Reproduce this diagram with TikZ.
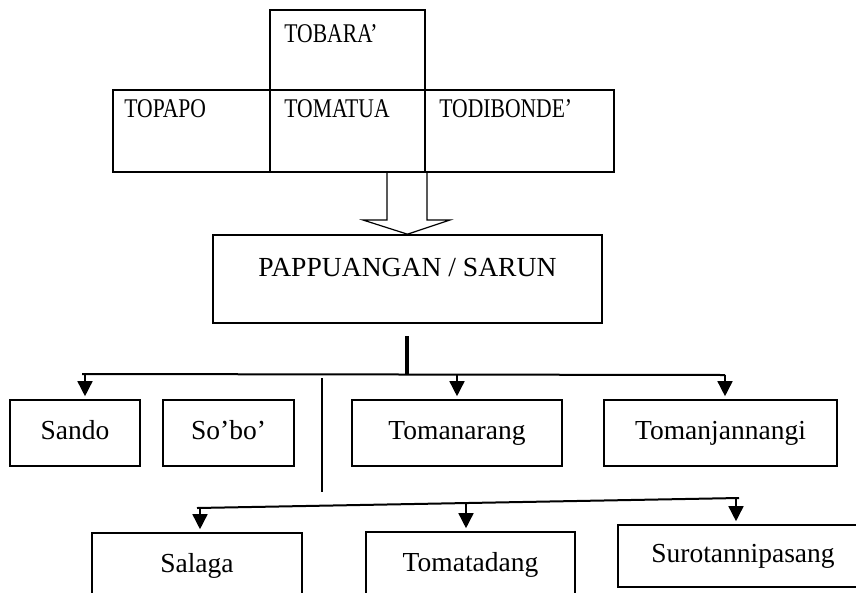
\documentclass[tikz,border=0pt]{standalone}
\usepackage{fontspec}
\setmainfont{Liberation Serif}
\usepackage{graphicx}
\usetikzlibrary{arrows.meta}
\newcommand{\narrowtext}[1]{\scalebox{.8}[1]{#1}}

\tikzset{
  cell/.style={draw, line width=1.6pt, inner sep=0pt},
  celltext/.style={anchor=north west, inner sep=0pt, font=\fontsize{27}{30}\selectfont},
  member/.style={draw, line width=1.6pt, minimum height=66pt, inner sep=0pt,
    text height=19pt, text depth=6pt, font=\fontsize{27.5}{30}\selectfont},
  branch/.style={line width=1.5pt, -{Triangle[width=15pt,length=15pt]}, shorten >=3pt},
  rail/.style={line width=2pt},
}

\begin{document}
\begin{tikzpicture}[x=1pt,y=-1pt]
  \clip (0,0) rectangle (856,592);

  % elders
  \node[cell, minimum width=155pt, minimum height=80pt,
    label={[celltext, xshift=15pt, yshift=-15pt]north west:\narrowtext{TOBARA’}}]
    (tobara) at (347.5,50) {};
  \node[cell, minimum width=157pt, minimum height=82pt,
    label={[celltext, xshift=12pt, yshift=-10pt]north west:\narrowtext{TOPAPO}}]
    (topapo) at (191.5,131) {};
  \node[cell, minimum width=155pt, minimum height=82pt,
    label={[celltext, xshift=15pt, yshift=-10pt]north west:\narrowtext{TOMATUA}}]
    (tomatua) at (347.5,131) {};
  \node[cell, minimum width=189pt, minimum height=82pt,
    label={[celltext, xshift=15pt, yshift=-10pt]north west:\narrowtext{TODIBONDE’}}]
    (todibonde) at (519.5,131) {};

  \node[cell, minimum width=389pt, minimum height=88pt,
    label={[inner sep=0pt, yshift=12pt, font=\fontsize{27.6}{30}\selectfont]center:PAPPUANGAN / SARUN}]
    (pappuangan) at (407.5,279) {};

  % hollow arrow
  \draw[line width=1.2pt] (387,172) -- (387,220) -- (363,220) -- (pappuangan.north)
    -- (450,220) -- (427,220) -- (427,172);

  % first row
  \node[member, minimum width=130pt] (sando) at (75,433) {Sando};
  \node[member, minimum width=131pt] (sobo) at (228.5,433) {So’bo’};
  \node[member, minimum width=210pt] (tomanarang) at (457,433) {Tomanarang};
  \node[member, minimum width=233pt] (tomanjannangi) at (720.5,433) {Tomanjannangi};

  % second row
  \node[member, minimum width=210pt] (salaga) at (197,566) {Salaga};
  \node[member, minimum width=209pt] (tomatadang) at (470.5,565) {Tomatadang};
  \node[member, minimum width=250pt, minimum height=62pt] (surotannipasang) at (743,556) {Surotannipasang};

  % upper rail
  \coordinate (railL) at (82,374);
  \coordinate (railR) at (725,375);
  \draw[line width=4.5pt] (407,336) -- (407,374);
  \draw[rail] (railL) -- (railR);
  \coordinate (s1) at (85,374);
  \coordinate (s2) at (457,374.5);
  \draw[branch] (s1) -- (s1 |- sando.north);
  \draw[branch] (s2) -- (s2 |- tomanarang.north);
  \draw[branch] (railR) -- (railR |- tomanjannangi.north);

  % lower rail
  \coordinate (drop) at (322,378);
  \coordinate (dropEnd) at (322,492);
  \draw[rail] (drop) -- (dropEnd);
  \coordinate (lowL) at (197,508);
  \coordinate (lowR) at (739,498);
  \draw[rail] (lowL) -- (lowR);
  \coordinate (t1) at (200,508);
  \coordinate (t2) at (466,503);
  \coordinate (t3) at (736,498);
  \draw[branch] (t1) -- (t1 |- salaga.north);
  \draw[branch] (t2) -- (t2 |- tomatadang.north);
  \draw[branch] (t3) -- (t3 |- surotannipasang.north);
\end{tikzpicture}
\end{document}
